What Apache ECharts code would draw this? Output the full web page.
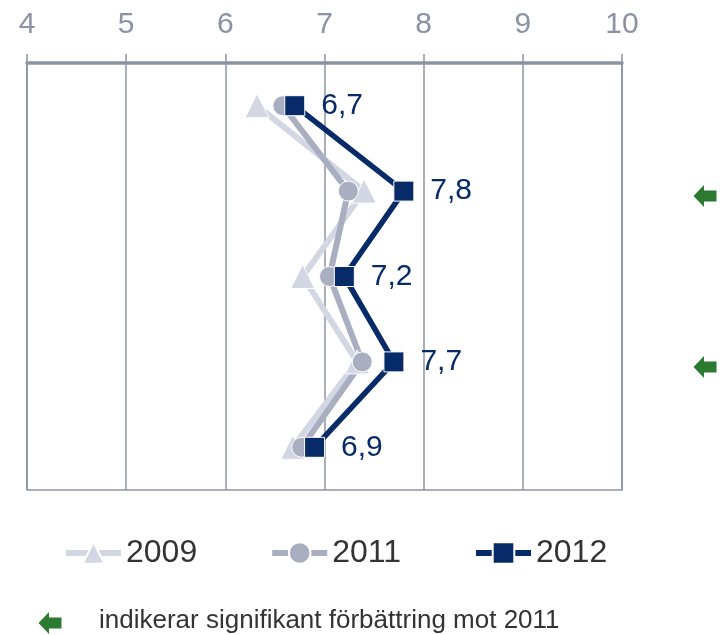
<!DOCTYPE html>
<html>
<head>
<meta charset="utf-8">
<script src="https://cdn.jsdelivr.net/npm/echarts@6/dist/echarts.min.js"></script>
<style>
  html, body { margin: 0; padding: 0; background: #fff; }
  #chart { width: 727px; height: 635px; }
</style>
</head>
<body>
<div id="chart"></div>
<script>
// Rows of the chart, top to bottom
const categories = ['A', 'B', 'C', 'D', 'E'];
const years = ['2009', '2011', '2012'];
const values2009 = [6.32, 7.4, 6.78, 7.33, 6.68];
const values2011 = [6.58, 7.24, 7.05, 7.38, 6.77];
const values2012 = [6.7, 7.8, 7.2, 7.7, 6.9];
// Rows where 2012 is a significant improvement over 2011
const improvedRows = ['B', 'D'];
const noteText = 'indikerar signifikant förbättring mot 2011';
const xTicks = { min: 4, max: 10, interval: 1 };

const colors = { y2009: '#d3d6e3', y2011: '#a9afc1', y2012: '#062b68' };
const axisGray = '#8c94a4';
const green = '#2b7a30';
const font = 'Liberation Sans, Arial, sans-serif';

const chart = echarts.init(document.getElementById('chart'), null, { renderer: 'canvas' });

function lineSeries(name, data, color, symbol, size, width, withLabel) {
  return {
    name: name,
    type: 'line',
    data: data,
    symbol: symbol,
    symbolSize: size,
    lineStyle: { color: color, width: width },
    itemStyle: { color: color, borderColor: '#fff', borderWidth: 1 },
    emphasis: { disabled: true },
    animation: false,
    label: withLabel ? {
      show: true,
      position: 'right',
      distance: 16,
      color: color,
      fontFamily: font,
      fontSize: 30,
      formatter: p => String(p.value).replace('.', ',')
    } : { show: false }
  };
}

chart.setOption({
  animation: false,
  grid: { left: 27, right: 105, top: 63, bottom: 145, show: true, borderColor: axisGray, borderWidth: 1.5 },
  xAxis: {
    type: 'value',
    position: 'top',
    min: xTicks.min, max: xTicks.max, interval: xTicks.interval,
    axisLine: { show: true, lineStyle: { color: axisGray, width: 3.5 } },
    axisTick: { show: true, inside: false, length: 9, lineStyle: { color: axisGray, width: 1.5 } },
    axisLabel: { color: '#8a92a3', fontFamily: font, fontSize: 30, margin: 23 },
    splitLine: { show: true, lineStyle: { color: axisGray, width: 1.5 } }
  },
  yAxis: {
    type: 'category',
    data: categories,
    inverse: true,
    axisLine: { show: false },
    axisTick: { show: false },
    axisLabel: { show: false },
    splitLine: { show: false }
  },
  legend: {
    data: years,
    top: 537,
    left: 63,
    padding: 0,
    itemWidth: 55,
    itemHeight: 27,
    itemGap: 72,
    lineStyle: { width: 6 },
    textStyle: { color: '#333', fontFamily: font, fontSize: 32 },
    selectedMode: false
  },
  series: [
    lineSeries('2009', values2009, colors.y2009, 'triangle', 24, 6, false),
    lineSeries('2011', values2011, colors.y2011, 'circle', 20, 6, false),
    lineSeries('2012', values2012, colors.y2012, 'rect', 20, 5.5, true)
  ]
});

// Left-pointing arrow polygon centred on (cx, cy)
function arrowPoints(cx, cy) {
  return [
    [cx - 11.5, cy], [cx - 1, cy - 11], [cx - 1, cy - 5.5],
    [cx + 11.5, cy - 5.5], [cx + 11.5, cy + 5.5], [cx - 1, cy + 5.5], [cx - 1, cy + 11]
  ];
}

const graphics = improvedRows.map(row => {
  const y = chart.convertToPixel({ yAxisIndex: 0 }, row);
  const x = chart.convertToPixel({ xAxisIndex: 0 }, xTicks.max) + 83;
  return { type: 'polygon', shape: { points: arrowPoints(x, y + 5) }, style: { fill: green } };
});
graphics.push({ type: 'polygon', shape: { points: arrowPoints(50, 623) }, style: { fill: green } });
graphics.push({
  type: 'text', left: 99, top: 608,
  style: { text: noteText, fill: '#333', font: '26px ' + font }
});
chart.setOption({ graphic: graphics });
</script>
</body>
</html>
